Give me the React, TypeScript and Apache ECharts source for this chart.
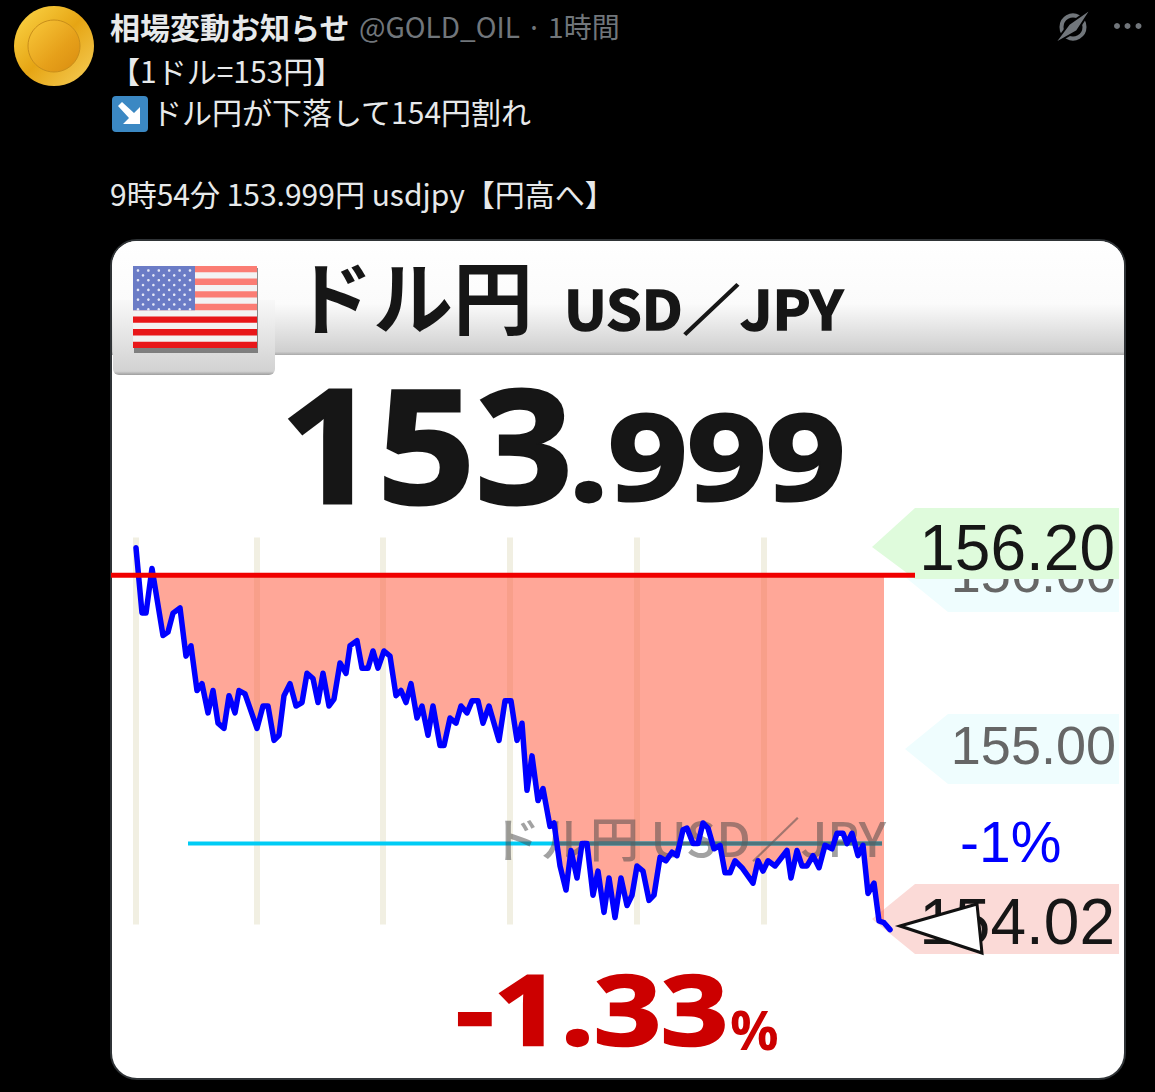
import React, { useEffect, useRef } from "react";
import * as echarts from "echarts";

// Elapsed session units along the chart and the USD/JPY price read at each of them
const elapsed = [0,6,10,16,27,32,37,44,50,55,61,66,72,77,82,88,93,99,103,109,121,127,132,138,143,148,154,160,166,171,177,182,187,193,198,204,210,214,221,226,232,237,242,248,254,260,265,270,275,281,286,292,297,304,308,314,320,325,331,336,342,347,353,363,369,375,381,386,391,396,402,407,414,418,424,430,435,441,446,451,457,462,468,473,479,485,491,496,501,507,513,518,524,530,536,541,547,551,557,562,567,572,578,584,589,594,599,606,617,622,627,632,639,651,655,661,666,671,677,683,689,696,701,707,711,716,722,727,732,738,743,748,754];
const usdJpy = [156.17,155.79,155.79,156.05,155.66,155.68,155.79,155.82,155.54,155.60,155.34,155.38,155.21,155.34,155.15,155.12,155.31,155.21,155.34,155.32,155.12,155.25,155.25,155.05,155.08,155.31,155.38,155.25,155.27,155.44,155.41,155.27,155.44,155.25,155.29,155.50,155.44,155.60,155.63,155.47,155.47,155.57,155.47,155.57,155.54,155.31,155.34,155.27,155.38,155.18,155.25,155.08,155.25,155.02,155.02,155.18,155.15,155.25,155.21,155.28,155.28,155.15,155.25,155.05,155.28,155.28,155.05,155.15,154.76,154.96,154.70,154.77,154.55,154.57,154.32,154.18,154.41,154.25,154.45,154.45,154.15,154.29,154.05,154.25,154.02,154.25,154.09,154.15,154.32,154.29,154.12,154.15,154.37,154.35,154.40,154.38,154.53,154.54,154.45,154.45,154.57,154.54,154.42,154.44,154.28,154.28,154.35,154.31,154.22,154.35,154.29,154.35,154.32,154.41,154.25,154.41,154.32,154.32,154.38,154.31,154.44,154.42,154.51,154.51,154.45,154.51,154.38,154.44,154.16,154.22,154.00,153.99,153.95];
const sessionTicks = [0, 121, 247, 374, 501, 628];
const openPrice = 156.01;
const minusOnePct = 154.45;
const yTicks = [155, 156];
const tickTexts = ["155.00", "156.00"];
const highText = "156.20";
const lowText = "154.02";
const bigPrice = ["153", ".999"];
const changeText = ["-1.33", "%"];
const tweetLines = ["【1ドル=153円】", "ドル円が下落して154円割れ", "9時54分 153.999円 usdjpy【円高へ】"];

const JP = '"Noto Sans CJK JP", sans-serif';
const NUM = '"Open Sans", sans-serif';
const NARROW = '"Liberation Sans Narrow", "Liberation Sans", sans-serif';

const grad = (stops: [number, string][]) =>
  new echarts.graphic.LinearGradient(0, 0, 0, 1, stops.map(([offset, color]) => ({ offset, color })));

function txt(text: string, x: number, y: number, font: any, z = 30, extra: any = {}) {
  return {
    type: "text", x, y, z, silent: true,
    style: {
      text, fill: font.fill, fontFamily: font.family, fontSize: font.size, fontWeight: font.weight ?? 400,
      textAlign: font.align ?? "left", textVerticalAlign: "middle", textBaseline: "middle",
      stroke: font.stroke, lineWidth: font.stroke ? font.strokeWidth : 0,
    },
    ...extra,
  };
}

function pentagon(tip: [number, number], left: number, top: number, bottom: number, fill: string, z: number) {
  return { type: "polygon", z, silent: true, shape: { points: [tip, [left, top], [1119, top], [1119, bottom], [left, bottom]] }, style: { fill } };
}

function flag() {
  const els: any[] = [];
  const L = 133, R = 257, T = 266, B = 348;
  els.push({ type: "rect", z: 4, shape: { x: L + 1, y: T + 2, width: R - L, height: B - T + 3 }, style: { fill: "rgba(50,50,50,0.55)" } });
  els.push({ type: "rect", z: 5, shape: { x: L, y: T, width: R - L, height: B - T }, style: { fill: "#f3f3f3" } });
  const h = (B - T) / 13;
  for (let i = 0; i < 13; i += 2) {
    const upper = i < 7;
    els.push({ type: "rect", z: 6, shape: { x: L, y: T + i * h, width: R - L, height: h }, style: { fill: upper ? "#fb7d74" : "#e8171a" } });
  }
  els.push({ type: "rect", z: 7, shape: { x: L, y: T, width: 62, height: h * 7 }, style: { fill: "#6b7cc6" } });
  for (let r = 0; r < 9; r++) {
    const n = r % 2 ? 5 : 6;
    for (let c = 0; c < n; c++) {
      els.push({ type: "circle", z: 8, shape: { cx: L + 5 + (r % 2 ? 5 : 0) + c * 10.4, cy: T + 4.5 + r * 4.85, r: 1.3 }, style: { fill: "#e6e9f8" } });
    }
  }
  return els;
}

export default function App() {
  const ref = useRef<HTMLDivElement>(null);
  useEffect(() => {
    document.body.style.margin = "0";
    document.body.style.background = "#000";
    const chart = echarts.init(ref.current!, null, { renderer: "svg" });
    const line = elapsed.map((t, i) => [t, usdJpy[i]]);
    const fillPart = line.filter(([t]) => t >= 16 && t <= 748);
    const red = "#f00000";
    const ink = "#161616";
    const gray = "#71767b";
    const textW = "#e7e9ea";
    chart.setOption({
      animation: false,
      backgroundColor: "#000",
      grid: { left: 111, top: 491, width: 1014, height: 516, containLabel: false },
      xAxis: { type: "value", min: -25, max: 989, show: false, splitLine: { show: false } },
      yAxis: {
        type: "value", min: 153.5, max: 156.5, position: "right", z: 3,
        axisLine: { show: false }, axisTick: { show: false }, splitLine: { show: false },
        axisLabel: {
          inside: true, margin: 9, customValues: yTicks, color: "#666", fontFamily: NARROW, fontSize: 54,
          verticalAlign: "bottom", lineHeight: 8,
          formatter: (v: number) => tickTexts[yTicks.indexOf(v)],
        },
      },
      series: [
        {
          type: "line", name: "session", z: 0, data: [], silent: true,
          markLine: {
            z: 0, silent: true, symbol: "none", animation: false, label: { show: false },
            lineStyle: { color: "#f1efe2", width: 6, type: "solid" },
            data: sessionTicks.map((t) => [{ coord: [t, 156.23] }, { coord: [t, 153.98] }]),
          },
        },
        {
          type: "line", name: "fill", z: 1, data: fillPart, symbol: "none", silent: true,
          lineStyle: { width: 0 }, areaStyle: { origin: openPrice, color: "rgba(255,80,50,0.5)", opacity: 1 },
        },
        {
          type: "line", name: "minus1", z: 1, symbol: "none", silent: true,
          data: [[52, minusOnePct], [746, minusOnePct]], lineStyle: { color: "#00ccf5", width: 4 },
        },
        {
          type: "line", name: "usdjpy", z: 6, data: line, symbol: "none", silent: true,
          lineStyle: { color: "#0000ff", width: 5.5, join: "round", cap: "round" },
        },
        {
          type: "line", name: "open", z: 7, symbol: "none", silent: true,
          data: [[-25, openPrice], [779, openPrice]], lineStyle: { color: red, width: 5 },
        },
        {
          type: "line", name: "strike", z: 5, symbol: "none", silent: true,
          data: [[419, minusOnePct], [746, minusOnePct]], lineStyle: { color: "rgba(95,95,95,0.8)", width: 4 },
        },
      ],
      graphic: {
        elements: [
          // card
          { type: "rect", z: -2, silent: true, shape: { x: 111, y: 240, width: 1014, height: 839, r: 26 }, style: { fill: "#fff", stroke: "#2f3336", lineWidth: 2 } },
          { type: "rect", z: -1, silent: true, shape: { x: 112, y: 241, width: 1012, height: 114, r: [25, 25, 0, 0] }, style: { fill: grad([[0, "#ffffff"], [0.55, "#fbfbfb"], [0.97, "#cfcfcf"], [1, "#a9a9a9"]]) } },
          { type: "rect", z: -1, silent: true, shape: { x: 113, y: 300, width: 162, height: 75, r: [0, 0, 6, 6] }, style: { fill: grad([[0, "#f8f8f8"], [0.95, "#d2d2d2"], [1, "#9d9d9d"]]) } },
          ...flag(),
          txt("ドル円", 293, 293, { family: JP, size: 80, weight: 700, fill: ink }),
          txt("USD／JPY", 564, 306, { family: JP, size: 54, weight: 700, fill: ink, stroke: ink, strokeWidth: 1.5 }, 30, { scaleX: 1.06 }),
          txt(bigPrice[0], 280, 442, { family: NUM, size: 158, weight: 700, fill: ink, stroke: ink, strokeWidth: 3 }, 30, { scaleX: 1.08 }),
          txt(bigPrice[1], 569, 455, { family: NUM, size: 118, weight: 700, fill: ink, stroke: ink, strokeWidth: 3 }, 30, { scaleX: 1.17 }),
          // price tags
          pentagon([905, 577], 948, 542, 612, "#effdfe", 0),
          pentagon([905, 749], 948, 714, 784, "#effdfe", 0),
          pentagon([872, 919], 915, 884, 954, "#fbdad7", 0),
          pentagon([872, 547], 915, 508, 579, "#dffbdc", 4),
          txt(highText, 1115, 548, { family: NARROW, size: 64, fill: ink, align: "right" }, 9),
          txt(lowText, 1115, 922, { family: NARROW, size: 64, fill: ink, align: "right" }, 3),
          { type: "polygon", z: 9, silent: true, shape: { points: [[900, 926], [977, 904], [982, 953]] }, style: { fill: "#fff", stroke: "#111", lineWidth: 3 } },
          txt("-1%", 960, 842, { family: '"Liberation Sans", sans-serif', size: 57, fill: "#0000ff" }),
          txt("ドル円 USD／JPY", 491, 836, { family: JP, size: 48, weight: 500, fill: "rgba(70,70,70,0.5)" }, 4, { scaleX: 1.03 }),
          txt(changeText[0], 456, 1008, { family: NUM, size: 96, weight: 700, fill: "#cc0000", stroke: "#cc0000", strokeWidth: 2.5 }, 30, { scaleX: 1.22 }),
          txt(changeText[1], 730, 1029, { family: NUM, size: 54, weight: 700, fill: "#cc0000" }),
          // tweet header
          { type: "circle", z: 1, shape: { cx: 54, cy: 46, r: 40 }, style: { fill: new echarts.graphic.LinearGradient(0, 0, 1, 1, [{ offset: 0, color: "#fdd84a" }, { offset: 0.5, color: "#e6a514" }, { offset: 1, color: "#f6cf5a" }]) } },
          { type: "circle", z: 2, shape: { cx: 54, cy: 46, r: 26 }, style: { fill: new echarts.graphic.LinearGradient(0, 0, 1, 1, [{ offset: 0, color: "#f9c93a" }, { offset: 0.6, color: "#e6a01a" }, { offset: 1, color: "#d98c10" }]), stroke: "#c98e1a", lineWidth: 1 } },
          txt("相場変動お知らせ", 110, 26, { family: JP, size: 30, weight: 700, fill: textW }),
          txt("@GOLD_OIL · 1時間", 359, 26, { family: JP, size: 28, fill: gray }),
          txt(tweetLines[0], 110, 70, { family: JP, size: 30, fill: textW }),
          { type: "rect", z: 2, shape: { x: 112, y: 96, width: 36, height: 36, r: 4 }, style: { fill: "#3b88c3" } },
          { type: "polygon", z: 3, shape: { points: [[118, 106], [122, 102], [134, 113], [140, 107], [140, 124], [123, 124], [129, 118]] }, style: { fill: "#fff" } },
          txt(tweetLines[1], 152, 111, { family: JP, size: 30, fill: textW }),
          txt(tweetLines[2], 110, 193, { family: JP, size: 30, fill: textW }),
          { type: "circle", z: 2, shape: { cx: 1073, cy: 27, r: 11.5 }, style: { fill: "none", stroke: gray, lineWidth: 4 } },
          { type: "polygon", z: 3, shape: { points: [[1092, 8], [1077, 31], [1054, 44], [1069, 24]] }, style: { fill: gray, stroke: "#000", lineWidth: 2 } },
          ...[1117, 1127.5, 1138.5].map((cx) => ({ type: "circle", z: 2, shape: { cx, cy: 26, r: 3 }, style: { fill: gray } })),
        ],
      },
    });
    return () => chart.dispose();
  }, []);
  return <div ref={ref} style={{ position: "absolute", left: 0, top: 0, width: 1155, height: 1092 }} />;
}
